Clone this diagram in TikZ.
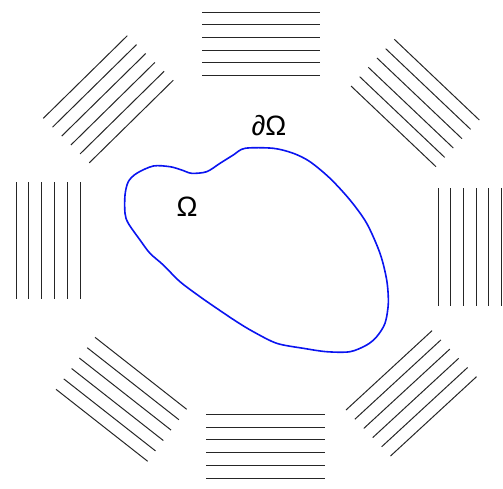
\documentclass[tikz,border=0pt]{standalone}
\usepackage{fontspec}
\setmainfont{Liberation Sans}
\usepackage{tikz}
\definecolor{rim}{HTML}{0A14F0}

\begin{document}
\begin{tikzpicture}[
  x=0.5pt, y=-0.5pt,
  %--- shared styles -----------------------------------------------
  hatch/.style={draw=black!85, line width=0.5pt},
  boundary/.style={draw=rim, line width=0.8pt},
  lbl/.style={font=\fontsize{14}{16}\selectfont, inner sep=0pt},
]
\useasboundingbox (0,0) rectangle (503,488);

%% --- eight groups of parallel lines round the domain -------------
% start, end, step between lines
\foreach \sx/\sy/\ex/\ey/\dx/\dy in {
    202/12.3/320/12.3/0/12.6,           % top
    206/414.3/325/414.3/0/12.8,         % bottom
    16/182/16/299/12.8/0,               % left
    438/188.3/438/305.7/12.7/0,         % right
    43.3/118.3/127.3/35.7/9.2/8.9,      % top left
    394.3/39.3/479.3/120/-8.66/9.34,    % top right
    346/410/432/330.7/8.9/9.2,          % bottom right
    95/337.3/186.7/409.3/-7.8/10.4}     % bottom left
  \foreach \i in {0,...,5}
    \draw[hatch] (\sx+\i*\dx, \sy+\i*\dy) -- (\ex+\i*\dx, \ey+\i*\dy);

%% --- the domain and its boundary ----------------------------------
\draw[boundary] plot[smooth cycle, tension=0.5] coordinates {
  (245,148.3) (273.3,148.3) (293.3,153.3) (310,161.7) (330,178.3)
  (350,200) (366.7,223.3) (380,253.3) (386.7,280) (388.3,303.3)
  (385,323.3) (376.7,336.7) (366.7,345) (350,351.7) (326.7,351.7)
  (303.3,348.3) (276.7,343.3) (253.3,331.7) (236.7,321.7)
  (216.7,308.3) (200,296.7) (180,281.7) (163.3,265) (150,253.3)
  (140,240) (128.3,223.3) (125,213.3) (125,195) (128.3,181.7)
  (136.7,173.3) (153.3,166) (170,166.7) (181.7,170) (191.7,173.3)
  (206.7,171.7) (220,163.3) (233.3,155)};

%% --- labels ---------------------------------------------------------
\node[lbl] (dom) at (187,207) {Ω};
\node[lbl] (bnd) at (269,126) {∂Ω};

\end{tikzpicture}
\end{document}
